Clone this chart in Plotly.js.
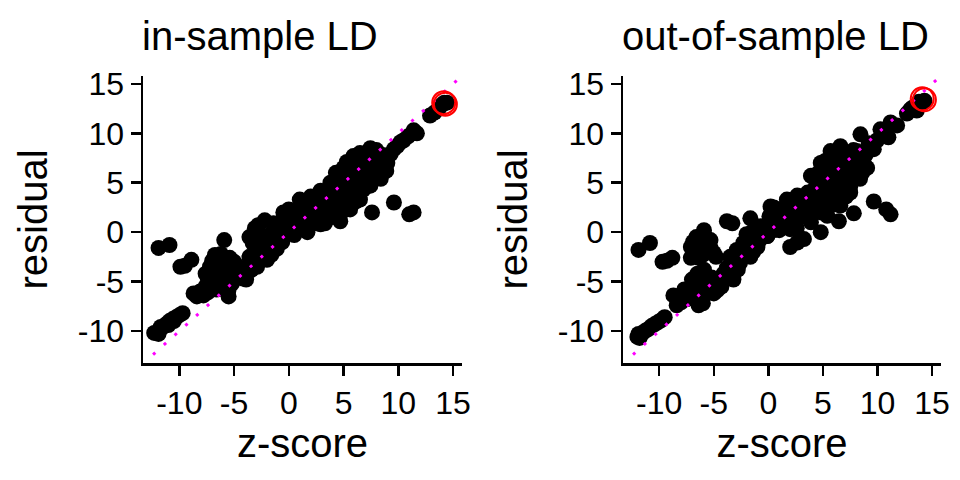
<!DOCTYPE html>
<html>
<head>
<meta charset="utf-8">
<script src="https://cdn.plot.ly/plotly-3.0.1.min.js"></script>
<style>
  html, body { margin: 0; padding: 0; background: #fff; }
  #chart { width: 960px; height: 480px; }
</style>
</head>
<body>
<div id="chart"></div>
<script>
// in-sample LD: z-score vs residual
var inZ = [
  -12.3, -12.0, -11.8, -11.5, -11.2, -10.9, -10.6, -10.3, -10.0, -9.7, -11.9, -11.0, -11.7, -10.5,
  -11.9, -10.9, -9.9, -9.5, -8.9,
  -8.7, -8.4, -7.8, -7.4, -8.1,
  -7.4, -7.2, -6.9, -6.75, -6.5, -6.0, -5.7, -5.4, -4.6, -6.1, -5.5, -5.5, -6.6, -7.0, -6.3, -5.9, -5.0, -4.2, -6.6, -5.8, -7.0, -5.0,
  -7.6, -7.3, -6.8, -6.2, -6.0, -5.6, -5.2, -6.3, -5.9, -6.6, -7.6, -6.2, -5.2, -4.8, -4.4,
  -3.9, -3.6, -3.6, -3.3, -3.1, -2.9, -2.8, -2.6, -2.3, -2.2, -2.0, -1.7, -1.4, -1.1, -1.1, -0.8, -0.5, -0.5, -0.2, 0.1, 0.3, 0.6, 1.0, 1.0, 1.3, 1.6, 1.7, 2.0, 2.2, 2.6, 2.9, 3.0, 3.4, 3.5, -3.4, -1.6, -0.9,
  -3.7, -3.2, -3.0, -2.5, -2.0, -1.8, -1.3, -1.0, -0.6, -0.3, 0.2, 0.5, 0.8, 1.2, 1.5, 1.9, 2.3, 2.5, 2.8, 3.2, 3.6, 3.3, 0.0,
  3.8, 5.0, 5.9, 6.5, 7.45, 8.7, 4.7, 5.6, 6.5, 7.45, 8.4,
  4.0, 4.2, 4.4, 4.6, 5.0, 5.2, 5.3, 5.5, 5.7, 5.8, 6.0, 6.2, 6.3, 6.6, 6.8, 6.9, 7.0, 7.2, 7.5, 7.8, 7.9, 8.1, 8.3, 8.8, 3.8, 4.8, 3.2, 2.9,
  4.1, 4.5, 4.9, 5.1, 5.4, 5.6, 5.9, 6.1, 6.4, 6.6, 6.7, 7.0, 7.1, 7.3, 7.6, 7.7, 8.0, 8.2, 8.5, 8.6, 8.0, 7.2, 5.3, 4.3, 4.7,
  9.0, 9.3, 9.6, 9.9, 10.2, 10.5, 10.9, 11.3, 11.7, 11.4, 8.9,
  12.9, 13.3, 13.7, 14.0, 14.2, 14.45,
  7.6, 9.6, 11.0, 11.4
];
var inR = [
  -10.2, -10.1, -9.9, -9.6, -9.3, -9.0, -8.8, -8.6, -8.4, -8.2, -10.3, -9.4, -9.6, -9.0,
  -1.6, -1.3, -3.5, -3.4, -2.8,
  -6.2, -6.5, -6.4, -6.1, -6.0,
  -4.7, -3.5, -4.0, -2.3, -3.5, -4.5, -3.8, -2.6, -3.5, -5.7, -5.8, -6.5, -5.2, -5.4, -3.0, -0.8, -4.4, -4.7, -4.3, -5.1, -2.9, -3.0,
  -4.2, -5.0, -3.6, -3.8, -2.7, -3.2, -3.4, -4.8, -5.5, -5.8, -5.5, -2.2, -5.2, -4.0, -3.8,
  -4.8, -2.5, -0.5, -1.1, 0.4, -3.5, 0.7, -1.8, -0.5, 1.2, -2.8, -1.5, 0.9, -1.5, -1.7, -0.6, -0.1, 2.0, 0.5, 0.0, 0.9, 1.5, 1.9, 3.3, 0.8, 2.9, 0.0, 3.6, 1.5, 2.4, 0.8, 3.0, 1.6, 4.0, -3.8, -2.3, 0.2,
  -3.5, -2.8, -1.5, -2.4, -1.0, -0.3, -0.6, 0.5, -1.0, 1.2, 1.6, -0.3, 0.5, 2.5, 1.2, 2.4, 3.0, 0.9, 1.8, 3.6, 2.5, 0.9, 2.3,
  5.0, 6.5, 7.7, 8.0, 8.5, 7.4, 1.1, 2.3, 3.3, 4.7, 5.4,
  2.0, 3.0, 4.2, 5.5, 3.0, 4.5, 5.8, 3.5, 6.8, 5.0, 4.0, 6.0, 7.2, 5.2, 4.3, 6.6, 7.6, 5.8, 6.8, 7.6, 5.5, 6.5, 7.8, 6.5, 1.5, 2.0, 2.6, 4.2,
  4.8, 2.5, 3.8, 5.2, 6.2, 4.2, 6.5, 3.1, 4.8, 7.6, 6.0, 5.2, 4.8, 7.2, 6.0, 8.0, 7.1, 5.8, 6.8, 7.8, 8.3, 8.0, 7.1, 6.0, 5.0,
  7.0, 7.9, 8.4, 8.7, 9.1, 9.3, 9.7, 10.0, 10.0, 10.3, 6.2,
  11.8, 12.1, 12.5, 12.9, 13.1, 13.1,
  2.0, 3.0, 1.8, 2.0
];

// out-of-sample LD
var outZ = [
  -12.0, -11.8, -11.6, -11.3, -11.0, -10.7, -10.4, -10.1, -9.8, -9.5, -11.9,
  -11.9, -10.85, -9.7, -9.3, -8.8,
  -7.1, -5.9, -6.2, -5.0, -7.1, -5.3, -6.6, -5.6, -6.7, -4.8,
  -6.9, -6.4, -5.8, -5.6, -6.0, -5.3, -6.4,
  -8.7, -8.4, -7.7, -7.0, -6.4, -5.9, -5.0, -5.6, -6.8, -7.5, -6.3, -6.0, -4.7, -5.2, -8.0, -6.5,
  -8.2, -7.3, -7.0, -6.6, -6.2, -5.8, -5.4, -5.3, -4.9, -6.0, -4.5, -4.3,
  -3.8, -3.3, -1.65,
  -4.1, -3.5, -3.2, -3.4, -2.6, -2.3, -1.65, -1.0, -0.4, 0.2, 1.1, 1.7, 0.5, 0.2, -2.0, -2.9, -1.3, -0.7, -0.1, 0.8, 1.4, 2.0, 2.0, 2.65, 3.26, 4.8, 6.46, 7.83,
  -3.8, -3.0, -2.8, -2.2, -1.8, -1.4, -1.5, -0.8, -0.2, 0.1, 0.5, 0.9, 1.0, 1.5, 1.8, 2.3, 2.6, 2.9, 2.2, 3.4, 3.4, 3.8,
  0.5, 1.7, 2.65, 3.9, 4.8, 5.7, 6.6, 8.1, 8.7, 9.05,
  -0.1, 2.0, 3.9, 5.4, 6.6, 7.5, 8.4,
  3.0, 3.2, 3.6, 4.0, 4.2, 4.4, 4.6, 4.8, 5.0, 5.2, 5.3, 5.4, 5.7, 5.9, 6.0, 6.1, 6.3, 6.5, 6.6, 6.8, 7.0, 7.1, 7.2, 7.4, 7.6, 7.8, 7.9, 8.1, 8.5, 8.6, 2.5, 1.2,
  3.6, 4.1, 4.3, 4.5, 4.7, 4.9, 5.1, 5.2, 5.5, 5.6, 5.8, 6.0, 6.2, 6.3, 6.4, 6.7, 6.9, 6.9, 7.2, 7.3, 7.5, 7.7, 7.9, 8.2, 8.3, 8.8, 8.9,
  8.44, 9.66, 10.27, 11.2, 11.8, 11.0, 9.97, 10.6, 9.2,
  12.7, 13.0, 13.2, 13.6, 13.8, 14.2, 14.3,
  9.66, 11.2, 10.8
];
var outR = [
  -10.6, -10.7, -10.3, -10.0, -9.8, -9.5, -9.3, -9.1, -8.9, -8.6, -10.3,
  -1.8, -1.1, -3.0, -2.9, -2.6,
  -1.5, 0.2, -1.1, -2.1, -2.6, -0.8, -0.5, -1.8, -2.0, -2.5,
  -1.0, -1.5, -0.4, -1.2, -2.3, -1.6, -2.6,
  -6.4, -7.4, -5.8, -4.8, -7.4, -3.8, -6.2, -5.5, -6.2, -6.8, -5.2, -6.5, -5.9, -4.6, -7.1, -4.2,
  -6.6, -6.1, -5.6, -6.8, -5.8, -4.6, -6.1, -5.0, -5.3, -7.2, -4.9, -5.5,
  1.1, 0.9, 1.4,
  -4.2, -2.5, -4.8, -3.3, -3.1, -1.1, -2.5, -1.5, -0.45, 0.9, 2.3, 2.9, 0.2, 2.6, -0.2, -1.8, -0.4, 0.6, -0.4, 1.3, 0.5, -1.5, 1.5, -1.05, -0.7, 0.0, 1.1, 1.9,
  -3.6, -2.2, -3.8, -2.4, -1.8, -2.0, 0.0, -0.8, 0.4, 1.6, 1.5, 2.0, 0.2, 1.8, 0.9, 2.5, 0.4, 1.5, 2.0, 1.8, 3.6, 2.9,
  2.5, 3.3, 3.7, 5.7, 7.0, 8.2, 8.7, 8.2, 7.4, 6.5,
  -0.4, 0.3, 1.0, 1.65, 2.7, 4.0, 5.4,
  2.0, 3.0, 4.0, 2.5, 3.5, 4.8, 6.0, 2.0, 3.0, 4.2, 5.4, 6.6, 3.5, 4.8, 6.0, 7.3, 2.8, 4.2, 5.5, 6.8, 7.8, 3.6, 5.0, 6.2, 7.4, 8.3, 5.5, 6.6, 7.4, 6.0, 1.2, 1.3,
  3.0, 4.2, 2.2, 5.4, 3.2, 6.4, 4.8, 7.2, 2.5, 5.8, 7.6, 3.8, 5.2, 6.6, 8.0, 3.5, 4.8, 6.2, 7.0, 8.0, 4.6, 6.5, 7.6, 5.9, 7.0, 6.8, 7.8,
  9.9, 8.4, 10.4, 11.1, 10.8, 9.6, 9.3, 10.0, 9.0,
  12.0, 12.4, 12.6, 12.3, 13.2, 13.1, 13.3,
  3.1, 1.8, 2.3
];

// highlighted top variants (red rings)
var inTopZ = [14.15, 14.3];
var inTopR = [13.1, 12.95];
var outTopZ = [14.1, 14.3];
var outTopR = [13.5, 13.4];

// y = x reference line
var refLine = [-12.4, 15.7];

// tick labels with a plain hyphen, as in the original
var tickVals = [-10, -5, 0, 5, 10, 15];
var tickText = ['-10', '-5', '0', '5', '10', '15'];

var W = 960, H = 480;
var font = 'Liberation Sans, Arial, Helvetica, sans-serif';

function pts(x, y, xa, ya) {
  return {
    type: 'scatter', mode: 'markers', x: x, y: y, xaxis: xa, yaxis: ya,
    marker: {color: '#000', size: 16, line: {width: 0}},
    hoverinfo: 'skip', showlegend: false
  };
}
function ref(xa, ya) {
  return {
    type: 'scatter', mode: 'lines', x: refLine, y: refLine, xaxis: xa, yaxis: ya,
    line: {color: '#FF00FF', width: 3, dash: '3px,11.5px'},
    hoverinfo: 'skip', showlegend: false
  };
}
function ring(x, y, xa, ya) {
  return {
    type: 'scatter', mode: 'markers', x: x, y: y, xaxis: xa, yaxis: ya,
    marker: {color: '#FF0000', size: 23, symbol: 'circle-open', line: {color: '#FF0000', width: 2}},
    hoverinfo: 'skip', showlegend: false
  };
}

var data = [
  pts(inZ, inR, 'x', 'y'), ref('x', 'y'), ring(inTopZ, inTopR, 'x', 'y'),
  pts(outZ, outR, 'x2', 'y2'), ref('x2', 'y2'), ring(outTopZ, outTopR, 'x2', 'y2')
];

function xaxis(domain, anchor) {
  return {
    domain: domain, anchor: anchor, range: [-13.32, 15.82],
    tickvals: tickVals, ticktext: tickText, ticks: 'outside', ticklen: 10, tickwidth: 2.5,
    tickcolor: '#000', showline: true, linecolor: '#000', linewidth: 2.5,
    showgrid: false, zeroline: false, tickfont: {size: 32, color: '#000'},
    title: {text: 'z-score', font: {size: 40, color: '#000'}, standoff: 4}
  };
}
function yaxis(anchor) {
  return {
    domain: [1 - 363 / H, 1 - 76 / H], anchor: anchor, range: [-13.24, 15.8],
    tickvals: tickVals, ticktext: tickText, ticks: 'outside', ticklen: 10, tickwidth: 2.5,
    tickcolor: '#000', showline: true, linecolor: '#000', linewidth: 2.5,
    showgrid: false, zeroline: false, tickfont: {size: 32, color: '#000'},
    title: {text: 'residual', font: {size: 40, color: '#000'}, standoff: 18}
  };
}

var layout = {
  width: W, height: H,
  margin: {l: 0, r: 0, t: 0, b: 0},
  paper_bgcolor: '#fff', plot_bgcolor: '#fff',
  font: {family: font, color: '#000'},
  xaxis: xaxis([143 / W, 462 / W], 'y'),
  yaxis: yaxis('x'),
  xaxis2: xaxis([623 / W, 941 / W], 'y2'),
  yaxis2: yaxis('x2'),
  annotations: [
    {text: 'in-sample LD', xref: 'paper', yref: 'paper', x: 140 / W, y: 1 - 36 / H,
     xanchor: 'left', yanchor: 'middle', showarrow: false, font: {size: 40, color: '#000'}},
    {text: 'out-of-sample LD', xref: 'paper', yref: 'paper', x: 620 / W, y: 1 - 36 / H,
     xanchor: 'left', yanchor: 'middle', showarrow: false, font: {size: 40, color: '#000'}}
  ]
};

Plotly.newPlot('chart', data, layout, {staticPlot: true, displayModeBar: false});
</script>
</body>
</html>
